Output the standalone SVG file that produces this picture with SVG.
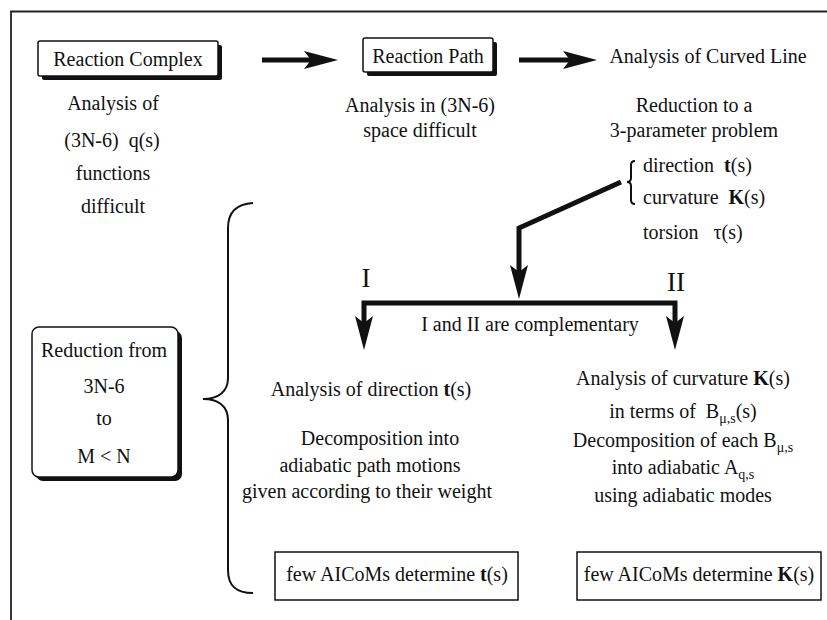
<svg xmlns="http://www.w3.org/2000/svg" width="827" height="620" viewBox="0 0 827 620">
<style>
  text { font-family: "Liberation Serif", "Times New Roman", serif; font-size: 20px; fill: #111; white-space: pre; }
  .c { text-anchor: middle; }
  .b { font-weight: bold; }
  .sub { font-size: 14px; }
  .big { font-size: 27px; }
  .box { fill: #fff; stroke: #111; stroke-width: 1.5; }
  .shadow { fill: #111; }
  .thin { fill: #fff; stroke: #111; stroke-width: 1.5; }
  .thick { fill: none; stroke: #111; stroke-width: 5; stroke-linejoin: miter; }
  .brace { fill: none; stroke: #111; stroke-width: 2; }
</style>
<defs>
  <marker id="head" markerUnits="userSpaceOnUse" markerWidth="36" markerHeight="22" refX="8" refY="10" orient="auto-start-reverse">
    <path d="M0,1 L34,10 L0,19 L7,10 Z" fill="#111"/>
  </marker>
</defs>
<rect width="827" height="620" fill="#fff"/>
<g id="frame">
  <path d="M11,620 V11.5 H827" fill="none" stroke="#222" stroke-width="1.8"/>
</g>

<g id="connectors">
  <path class="thick" d="M262,60 H312" marker-end="url(#head)"/>
  <path class="thick" d="M519,60 H571" marker-end="url(#head)"/>
  <path class="thick" d="M621,182 L519,228 V273" marker-end="url(#head)"/>
  <path class="thick" d="M364,324 V303 H675 V324" marker-start="url(#head)" marker-end="url(#head)"/>
  <path class="brace" d="M253,203 C236,204 228,212 228,228 V378 C228,392 218,399 203,399 C218,399 228,406 228,420 V570 C228,586 236,593 253,593"/>
  <path class="brace" stroke-width="1.3" d="M635,161 Q631,161 631,165 V178 Q631,182 627,182 Q631,182 631,186 V200 Q631,204 635,204"/>
</g>

<g id="reaction-complex">
  <rect class="shadow" x="42" y="45" width="180" height="35" rx="2"/>
  <rect class="box" x="38" y="41" width="180" height="35" rx="2"/>
  <text class="c" x="128" y="66">Reaction Complex</text>
</g>
<g id="reaction-complex-notes">
  <text class="c" x="113" y="110">Analysis of</text>
  <text class="c" x="112" y="147">(3N-6)  q(s)</text>
  <text class="c" x="113" y="180">functions</text>
  <text class="c" x="113" y="213">difficult</text>
</g>

<g id="reaction-path">
  <rect class="shadow" x="367" y="42" width="130" height="34" rx="2"/>
  <rect class="box" x="363" y="38" width="130" height="34" rx="2"/>
  <text class="c" x="428" y="63">Reaction Path</text>
</g>
<g id="reaction-path-notes">
  <text class="c" x="420" y="112">Analysis in (3N-6)</text>
  <text class="c" x="420" y="137">space difficult</text>
</g>

<g id="curved-line">
  <text class="c" x="708" y="63">Analysis of Curved Line</text>
  <text class="c" x="694" y="112">Reduction to a</text>
  <text class="c" x="694" y="137">3-parameter problem</text>
  <text x="643" y="172">direction  <tspan class="b">t</tspan>(s)</text>
  <text x="643" y="204">curvature  <tspan class="b">K</tspan>(s)</text>
  <text x="643" y="239">torsion   τ(s)</text>
</g>

<g id="labels">
  <text class="c big" x="366" y="287">I</text>
  <text class="c big" x="676" y="291">II</text>
  <text class="c" x="530" y="331">I and II are complementary</text>
</g>

<g id="reduction-box">
  <rect class="shadow" x="36" y="331" width="146" height="150" rx="7"/>
  <rect class="box" x="32" y="327" width="146" height="150" rx="7"/>
  <text class="c" x="104" y="357">Reduction from</text>
  <text class="c" x="104" y="393">3N-6</text>
  <text class="c" x="104" y="425">to</text>
  <text class="c" x="104" y="463">M &lt; N</text>
</g>

<g id="direction-analysis">
  <text class="c" x="371" y="396">Analysis of direction <tspan class="b">t</tspan>(s)</text>
  <text class="c" x="380" y="445">Decomposition into</text>
  <text class="c" x="370" y="472">adiabatic path motions</text>
  <text class="c" x="367" y="498">given according to their weight</text>
</g>
<g id="direction-result">
  <rect class="thin" x="275" y="552" width="243" height="48"/>
  <text class="c" x="397" y="581">few AICoMs determine <tspan class="b">t</tspan>(s)</text>
</g>

<g id="curvature-analysis">
  <text class="c" x="683" y="385">Analysis of curvature <tspan class="b">K</tspan>(s)</text>
  <text class="c" x="683" y="418">in terms of  B<tspan class="sub" dy="5">μ,s</tspan><tspan dy="-5">(s)</tspan></text>
  <text class="c" x="683" y="447">Decomposition of each B<tspan class="sub" dy="5">μ,s</tspan></text>
  <text class="c" x="683" y="474">into adiabatic A<tspan class="sub" dy="5">q,s</tspan></text>
  <text class="c" x="683" y="502">using adiabatic modes</text>
</g>
<g id="curvature-result">
  <rect class="thin" x="577" y="552" width="244" height="48"/>
  <text class="c" x="699" y="581">few AICoMs determine <tspan class="b">K</tspan>(s)</text>
</g>
</svg>
